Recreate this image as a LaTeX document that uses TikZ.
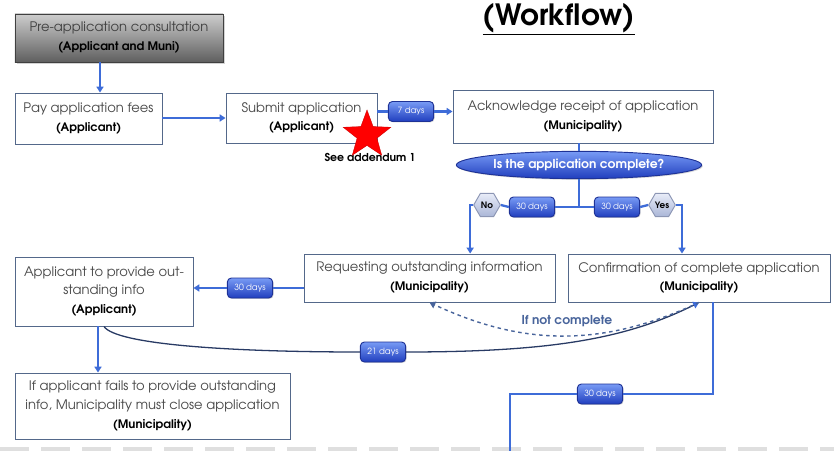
\documentclass[tikz,border=0pt]{standalone}
\usepackage{fontspec}
\setmainfont{TeX Gyre Adventor}
\usetikzlibrary{arrows.meta,shapes.geometric,shadows}

\definecolor{boxline}{RGB}{84,104,138}
\definecolor{txtgray}{RGB}{72,72,72}
\definecolor{arrblue}{RGB}{62,108,216}
\definecolor{badgetop}{RGB}{120,155,245}
\definecolor{badgebot}{RGB}{32,62,190}
\definecolor{badgeline}{RGB}{30,50,150}
\definecolor{hextop}{RGB}{232,236,248}
\definecolor{hexbot}{RGB}{170,182,215}
\definecolor{hexline}{RGB}{140,150,180}
\definecolor{navy}{RGB}{40,58,100}
\definecolor{dashblue}{RGB}{72,100,155}
\definecolor{pretop}{RGB}{205,205,205}
\definecolor{prebot}{RGB}{95,95,95}

\newcommand{\whobox}[1]{{\fontsize{10}{16}\selectfont\bfseries\textcolor{black}{#1}}}

\begin{document}
\begin{tikzpicture}[x=0.03cm, y=-0.03cm, thick,
    stepbox/.style = {draw=boxline, line width=0.8pt, fill=white, align=center, text=txtgray,
                      font=\fontsize{11.2}{16}\selectfont, inner sep=1pt,
                      drop shadow={opacity=0.2, shadow xshift=1pt, shadow yshift=-1pt}},
    days/.style = {draw=badgeline, rounded corners=3.5pt, top color=badgetop, bottom color=badgebot,
                   text=white, font=\fontsize{7.3}{8}\selectfont, minimum width=1.36cm,
                   minimum height=0.6cm, inner sep=1pt,
                   drop shadow={opacity=0.35, shadow xshift=0.8pt, shadow yshift=-0.8pt}},
    hexa/.style = {regular polygon, regular polygon sides=6, minimum size=0.8cm, inner sep=0pt,
                   draw=hexline, top color=hextop, bottom color=hexbot,
                   font=\fontsize{7.5}{8}\selectfont\bfseries},
    link/.style = {draw=arrblue, line width=2pt},
    arr/.style = {link, -{Triangle[length=5pt, width=6pt]}}
]
\useasboundingbox (0,0) rectangle (834,451);

% footer dashes
\draw[gray!25, line width=0.13cm, dash pattern=on 0.87cm off 0.36cm] (0,449) -- (834,449);

\node[font=\fontsize{25}{28}\selectfont\bfseries] (title) at (559,19) {\underline{(Workflow)}};

% boxes
\node[stepbox, draw=gray!50!black, top color=pretop, bottom color=prebot,
      minimum width=6.24cm, minimum height=1.44cm, text=black!75,
      drop shadow={opacity=0.35, shadow xshift=1.5pt, shadow yshift=-1.5pt}] (pre) at (119,38)
      {Pre-application consultation\\\whobox{(Applicant and Muni)}};
\node[stepbox, minimum width=4.41cm, minimum height=1.53cm] (pay) at (88.5,118.5)
      {Pay application fees\\\whobox{(Applicant)}};
\node[stepbox, minimum width=4.53cm, minimum height=1.5cm] (submit) at (301.5,118)
      {Submit application\\\whobox{(Applicant)}};
\node[stepbox, minimum width=7.8cm, minimum height=1.59cm] (ack) at (583,116.5)
      {Acknowledge receipt of application\\\whobox{(Municipality)}};
\node[ellipse, minimum width=6.36cm, minimum height=0.82cm, inner sep=1pt, draw=badgeline,
      top color=badgetop, bottom color=badgebot, text=white,
      font=\fontsize{10.5}{12}\selectfont\bfseries,
      drop shadow={opacity=0.3, shadow xshift=1pt, shadow yshift=-1pt}] (check) at (579,165)
      {Is the application complete?};
\node[stepbox, minimum width=7.53cm, minimum height=1.44cm] (req) at (429.5,278)
      {Requesting outstanding information\\\whobox{(Municipality)}};
\node[stepbox, minimum width=7.86cm, minimum height=1.44cm] (conf) at (699,278)
      {Confirmation of complete application\\\whobox{(Municipality)}};
\node[stepbox, minimum width=5.34cm, minimum height=2.07cm] (apl) at (104,291.5)
      {Applicant to provide out-\\standing info\\\whobox{(Applicant)}};
\node[stepbox, minimum width=8.25cm, minimum height=1.98cm] (fail) at (152.5,406)
      {If applicant fails to provide outstanding\\info, Municipality must close application\\\whobox{(Municipality)}};

% badges
\node[days] (d7) at (411,111.5) {7 days};
\node[days] (dno) at (532,207) {30 days};
\node[days] (dyes) at (617,207) {30 days};
\node[hexa] (no) at (487,205) {No};
\node[hexa] (yes) at (662,205) {Yes};
\node[days] (d30a) at (250,288) {30 days};
\node[days] (d21) at (383,352) {21 days};
\node[days] (d30b) at (600,394) {30 days};
\coordinate (fork) at (579,207);
\coordinate (exit) at (510,451);

% connectors
\draw[arr] ([xshift=-0.57cm]pre.south) -- ([xshift=-0.57cm]pre.south |- pay.north);
\draw[arr] (pay.east |- submit) -- (submit.west);
\draw[link] (d7 -| submit.east) -- (d7.west);
\draw[arr] (d7.east) -- (d7 -| ack.west);
\draw[link] (ack.south -| check) -- (check.north);
\draw[link] (check.south) -- (fork);
\draw[link] (fork) -- (dno.east);
\draw[link] (dno.west) -- (no.east);
\draw[arr] (no.west) -| ([xshift=1.22cm]req.north);
\draw[link] (fork) -- (dyes.west);
\draw[link] (dyes.east) -- (yes.west);
\draw[arr] (yes.east) -| ([xshift=-0.51cm]conf.north);
\draw[link] (req.west |- d30a) -- (d30a.east);
\draw[arr] (d30a.west) -- (apl.east |- d30a);
\draw[arr] ([xshift=-0.18cm]apl.south) -- ([xshift=-0.18cm]apl.south |- fail.north);
\draw[navy, line width=1.1pt] (apl.south) .. controls +(12,18) and +(-130,0) .. (d21.west);
\draw[navy, line width=1.1pt, -{Triangle[length=5pt, width=6pt, color=arrblue]}]
      (d21.east) .. controls +(150,0) and +(-70,35) .. (conf.south);
\draw[dashblue, line width=1.2pt, dashed, -{Triangle[length=5pt, width=6pt]}]
      (conf.south) to[out=-155, in=-25] (req.south);
\node[text=dashblue, font=\fontsize{10.5}{12}\selectfont\bfseries] (ifnot) at (567,321) {If not complete};
\draw[link, line width=2.5pt] ([xshift=0.42cm]conf.south) |- (d30b.east);
\draw[link, line width=2.5pt] (d30b.west) -| (exit);

% addendum note
\node[font=\fontsize{9.3}{10}\selectfont\bfseries] (addendum) at (370,157) {See addendum 1};
\node[star, star points=5, star point ratio=2.4, fill=red, draw=red!80!black, line width=0.3pt,
      minimum size=1.5cm, inner sep=0pt] (star) at (367,135) {};
\end{tikzpicture}
\end{document}
